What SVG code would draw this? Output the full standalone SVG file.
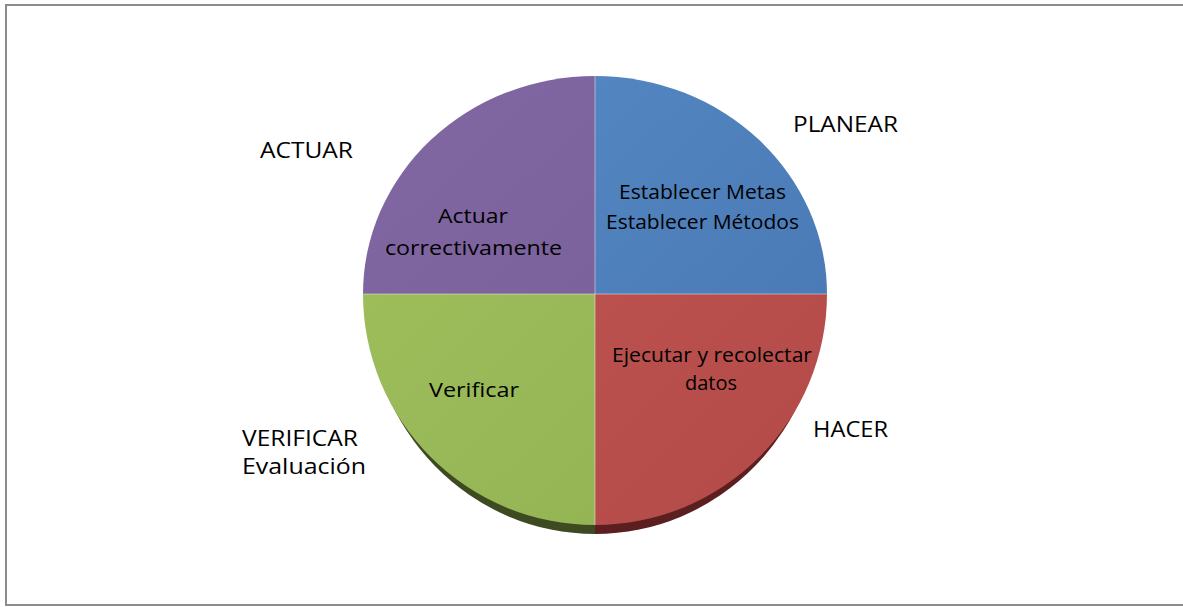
<svg xmlns="http://www.w3.org/2000/svg" width="1183" height="607" viewBox="0 0 1183 607">
<style>
.lbl{font-family:"Open Sans","Liberation Sans",Arial,sans-serif;font-size:22px;fill:#000}
.in{font-family:"Open Sans","Liberation Sans",Arial,sans-serif;font-size:19.5px;fill:#000;text-anchor:middle}
.div{stroke:#ffffff;stroke-opacity:0.45;stroke-width:1;fill:none}
</style>
<defs>
<linearGradient id="gB" x1="0" y1="0" x2="1" y2="1"><stop offset="0" stop-color="#5385c0"/><stop offset="1" stop-color="#4a7bb6"/></linearGradient>
<linearGradient id="gR" x1="0" y1="0" x2="1" y2="1"><stop offset="0" stop-color="#bb514e"/><stop offset="1" stop-color="#b24a47"/></linearGradient>
<linearGradient id="gG" x1="0" y1="0" x2="1" y2="1"><stop offset="0" stop-color="#9dbd5b"/><stop offset="1" stop-color="#95b555"/></linearGradient>
<linearGradient id="gP" x1="0" y1="0" x2="1" y2="1"><stop offset="0" stop-color="#8268a3"/><stop offset="1" stop-color="#7c629d"/></linearGradient>
</defs>
<rect x="6" y="5" width="1182" height="600" fill="#ffffff" stroke="#8c8c8c" stroke-width="2"/>
<g id="side">
<path d="M369,303 A226,231 0 0,0 595,534 L595,500 L369,300 Z" fill="#3e4b22"/>
<path d="M595,534 A226,231 0 0,0 821,303 L821,300 L595,500 Z" fill="#5a1f1e"/>
</g>
<g id="planear-slice"><path d="M595,294 L595,76 A232,218 0 0,1 827,294 Z" fill="url(#gB)"/></g>
<g id="hacer-slice"><path d="M595,294 L827,294 A232,231 0 0,1 595,525 Z" fill="url(#gR)"/></g>
<g id="verificar-slice"><path d="M595,294 L595,525 A232,231 0 0,1 363,294 Z" fill="url(#gG)"/></g>
<g id="actuar-slice"><path d="M595,294 L363,294 A232,218 0 0,1 595,76 Z" fill="url(#gP)"/></g>
<g id="dividers">
<path class="div" d="M595,76 L595,525 M363,294 L827,294"/>
</g>
<g id="inner-text">
<text class="in" x="702.5" y="199" textLength="167" lengthAdjust="spacingAndGlyphs">Establecer Metas</text>
<text class="in" x="702.5" y="229" textLength="193" lengthAdjust="spacingAndGlyphs">Establecer Métodos</text>
<text class="in" x="473" y="223" textLength="70" lengthAdjust="spacingAndGlyphs">Actuar</text>
<text class="in" x="473.5" y="255" textLength="177" lengthAdjust="spacingAndGlyphs">correctivamente</text>
<text class="in" x="712" y="362" textLength="200" lengthAdjust="spacingAndGlyphs">Ejecutar y recolectar</text>
<text class="in" x="711" y="390" textLength="52" lengthAdjust="spacingAndGlyphs">datos</text>
<text class="in" x="474" y="397" textLength="90" lengthAdjust="spacingAndGlyphs">Verificar</text>
</g>
<g id="outer-labels">
<text class="lbl" x="793" y="132" textLength="105" lengthAdjust="spacingAndGlyphs">PLANEAR</text>
<text class="lbl" x="260" y="158" textLength="93" lengthAdjust="spacingAndGlyphs">ACTUAR</text>
<text class="lbl" x="242" y="446" textLength="116" lengthAdjust="spacingAndGlyphs">VERIFICAR</text>
<text class="lbl" x="242" y="474" textLength="124" lengthAdjust="spacingAndGlyphs">Evaluación</text>
<text class="lbl" x="813" y="437" textLength="75" lengthAdjust="spacingAndGlyphs">HACER</text>
</g>
</svg>
